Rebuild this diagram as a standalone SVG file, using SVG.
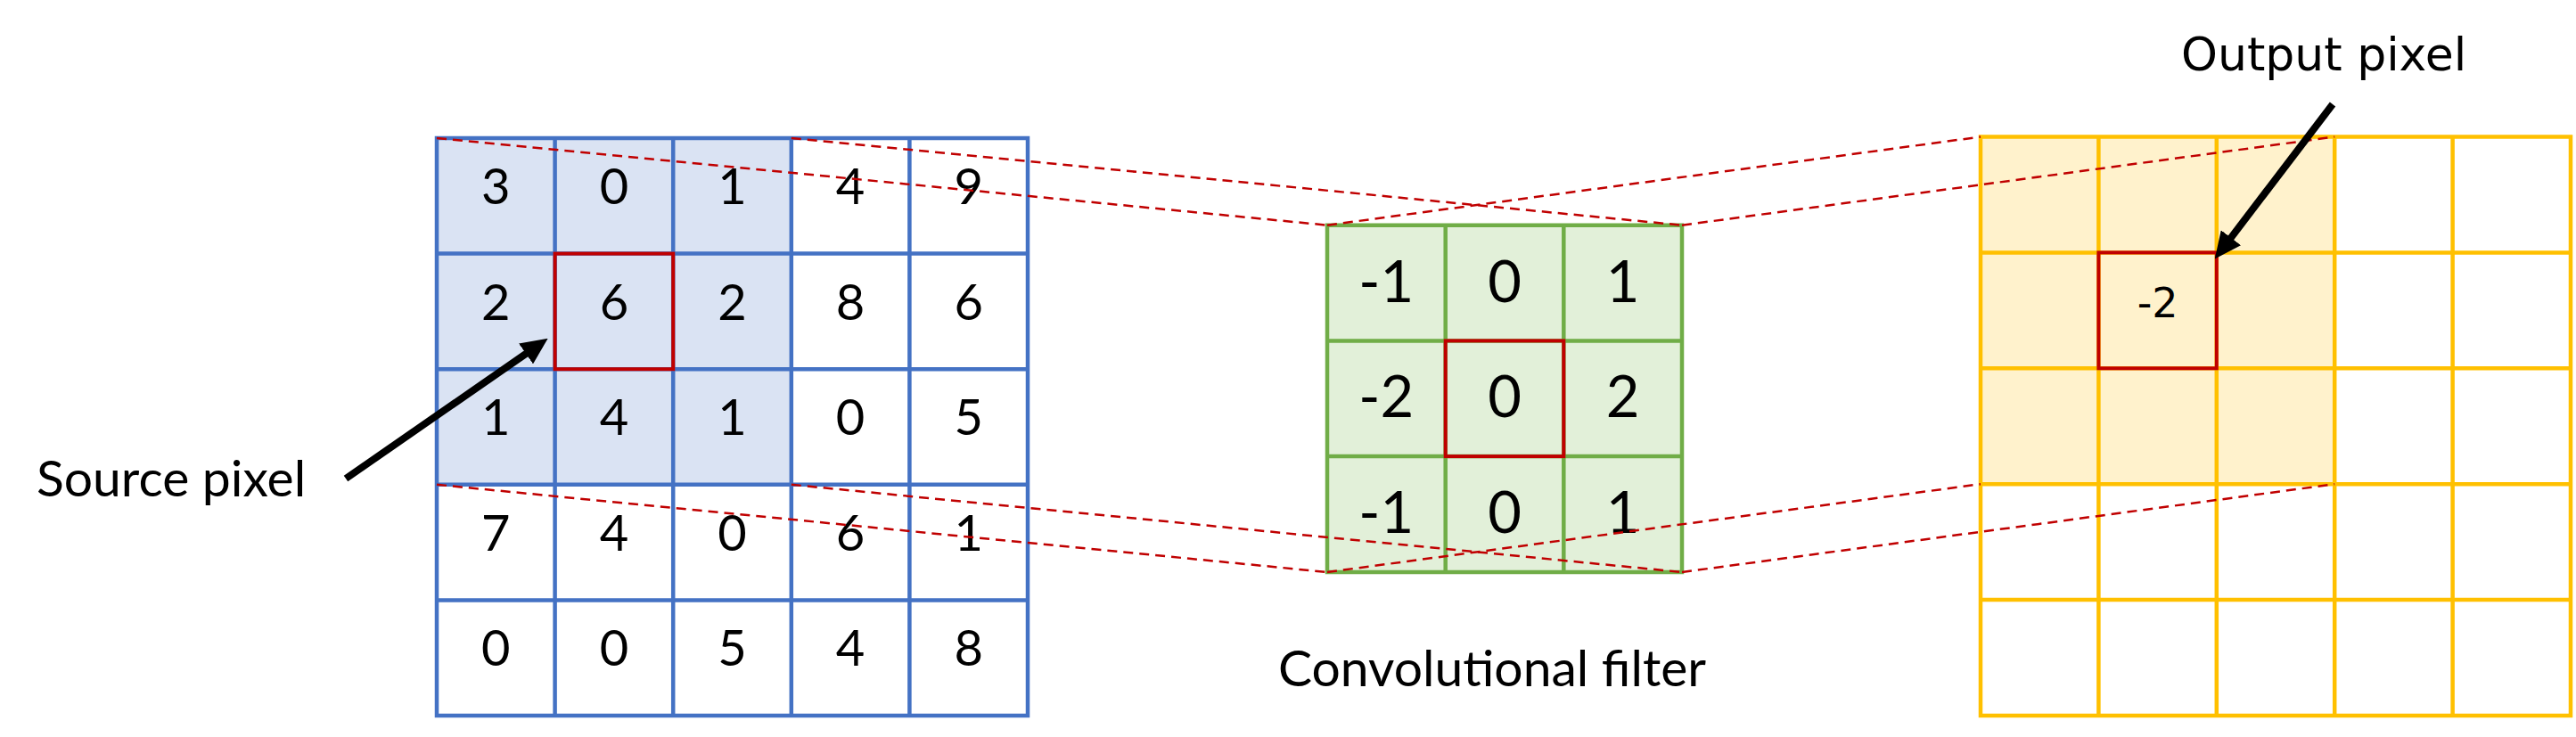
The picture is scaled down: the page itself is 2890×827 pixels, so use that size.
<svg xmlns="http://www.w3.org/2000/svg" width="2890" height="827" viewBox="0 0 2890 827">
<style>
.num{font-family:Lato,"Liberation Sans",sans-serif;font-size:56px;fill:#000;text-anchor:middle}
.fnum{font-family:Lato,"Liberation Sans",sans-serif;font-size:65px;fill:#000;text-anchor:middle}
.lbl{font-family:Lato,"Liberation Sans",sans-serif;font-size:57px;fill:#000}
.lbl2{font-family:"DejaVu Sans",sans-serif;font-size:52px;fill:#000}
.onum{font-family:"DejaVu Sans",sans-serif;font-size:46px;fill:#000;text-anchor:middle}
.gblue{fill:none;stroke:#4472C4;stroke-width:4.5}
.ggreen{fill:none;stroke:#70AD47;stroke-width:4.5}
.gyellow{fill:none;stroke:#FFC000;stroke-width:4.5}
.sel{fill:none;stroke:#C00000;stroke-width:4}
.dash{fill:none;stroke:#C00000;stroke-width:2.5;stroke-dasharray:11 7}
.arrow{fill:none;stroke:#000;stroke-width:8;marker-end:url(#ah)}
</style>
<defs>
<marker id="ah" markerUnits="userSpaceOnUse" markerWidth="30" markerHeight="28" refX="8" refY="14" orient="auto">
<path d="M0,0 L30,14 L0,28 z" fill="#000"/>
</marker>
</defs>
<rect width="2890" height="827" fill="#fff"/>

<g id="source-grid">
<rect x="490" y="155" width="397.8" height="388.8" fill="#DAE3F3"/>
<path class="gblue" d="M490,155H1153V803H490Z M622.6,155V803 M755.2,155V803 M887.8,155V803 M1020.4,155V803 M490,284.6H1153 M490,414.2H1153 M490,543.8H1153 M490,673.4H1153"/>
<rect class="sel" x="622.6" y="284.6" width="132.6" height="129.6"/>
<g>
<text class="num" x="556.3" y="229">3</text><text class="num" x="688.9" y="229">0</text><text class="num" x="821.5" y="229">1</text><text class="num" x="954.1" y="229">4</text><text class="num" x="1086.7" y="229">9</text>
<text class="num" x="556.3" y="358.6">2</text><text class="num" x="688.9" y="358.6">6</text><text class="num" x="821.5" y="358.6">2</text><text class="num" x="954.1" y="358.6">8</text><text class="num" x="1086.7" y="358.6">6</text>
<text class="num" x="556.3" y="488.2">1</text><text class="num" x="688.9" y="488.2">4</text><text class="num" x="821.5" y="488.2">1</text><text class="num" x="954.1" y="488.2">0</text><text class="num" x="1086.7" y="488.2">5</text>
<text class="num" x="556.3" y="617.8">7</text><text class="num" x="688.9" y="617.8">4</text><text class="num" x="821.5" y="617.8">0</text><text class="num" x="954.1" y="617.8">6</text><text class="num" x="1086.7" y="617.8">1</text>
<text class="num" x="556.3" y="747.4">0</text><text class="num" x="688.9" y="747.4">0</text><text class="num" x="821.5" y="747.4">5</text><text class="num" x="954.1" y="747.4">4</text><text class="num" x="1086.7" y="747.4">8</text>
</g>
</g>

<g id="source-label">
<text class="lbl" x="41" y="557">Source pixel</text>
</g>

<g id="filter">
<rect x="1489" y="252.7" width="398" height="389.3" fill="#E2F0D9"/>
<path class="ggreen" d="M1489,252.7H1887V642H1489Z M1621.7,252.7V642 M1754.3,252.7V642 M1489,382.4H1887 M1489,512.1H1887"/>
<rect class="sel" x="1621.7" y="382.4" width="132.6" height="129.7"/>
<text class="fnum" x="1555.3" y="338.5">-1</text><text class="fnum" x="1688" y="338.5">0</text><text class="fnum" x="1820.6" y="338.5">1</text>
<text class="fnum" x="1555.3" y="468.2">-2</text><text class="fnum" x="1688" y="468.2">0</text><text class="fnum" x="1820.6" y="468.2">2</text>
<text class="fnum" x="1555.3" y="597.9">-1</text><text class="fnum" x="1688" y="597.9">0</text><text class="fnum" x="1820.6" y="597.9">1</text>
</g>

<g id="filter-label">
<text class="lbl" x="1434" y="770">Convolutional filter</text>
</g>

<g id="output-grid">
<rect x="2222" y="153.5" width="397.2" height="389.7" fill="#FFF2CC"/>
<path class="gyellow" d="M2222,153.5H2884V803H2222Z M2354.4,153.5V803 M2486.8,153.5V803 M2619.2,153.5V803 M2751.6,153.5V803 M2222,283.4H2884 M2222,413.3H2884 M2222,543.2H2884 M2222,673.1H2884"/>
<rect class="sel" x="2354.4" y="283.4" width="132.4" height="129.9"/>
<text class="onum" x="2420.6" y="356">-2</text>
</g>

<g id="output-label">
<text class="lbl2" x="2447" y="79">Output pixel</text>
</g>

<g id="connectors">
<path class="dash" d="M490,155L1489,252.7"/>
<path class="dash" d="M887.8,155L1887,252.7"/>
<path class="dash" d="M490,543.8L1489,642"/>
<path class="dash" d="M887.8,543.8L1887,642"/>
<path class="dash" d="M1489,252.7L2222,153.5"/>
<path class="dash" d="M1887,252.7L2619.2,153.5"/>
<path class="dash" d="M1489,642L2222,543.2"/>
<path class="dash" d="M1887,642L2619.2,543.2"/>
<path class="arrow" d="M388,537L596.6,392.4"/>
<path class="arrow" d="M2617,117L2498.1,273.1"/>
</g>
</svg>
